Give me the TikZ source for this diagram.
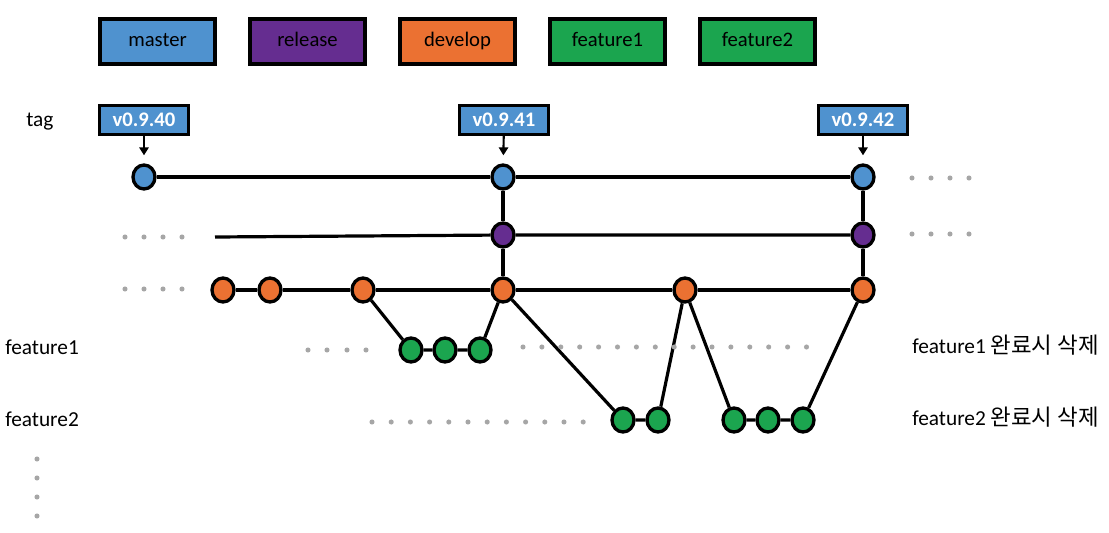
\documentclass[tikz,border=0pt]{standalone}
\usepackage{fontspec}
\setmainfont{Carlito}
\newfontfamily\krfont{Noto Sans CJK KR}[Scale=1.05]
\usetikzlibrary{arrows.meta,shapes.geometric}
\definecolor{cmaster}{HTML}{4F92CF}
\definecolor{crelease}{HTML}{652D90}
\definecolor{cdevelop}{HTML}{EB7132}
\definecolor{cfeature}{HTML}{1BA54F}
\definecolor{cdot}{HTML}{A6A6A6}
\begin{document}
\begin{tikzpicture}[x=0.75pt,y=-0.75pt,
  legendbox/.style={draw=black,line width=3pt,minimum width=86.25pt,minimum height=33.75pt,inner sep=0pt,text height=1.9ex,text depth=0.3ex,font=\fontsize{15.5}{18}\selectfont},
  tagbox/.style={draw=black,fill=cmaster,line width=2.2pt,minimum width=66.75pt,minimum height=21.4pt,inner sep=0pt,text=white,font=\fontsize{15.5}{18}\selectfont\bfseries},
  commit/.style={ellipse,draw=black,line width=2.5pt,minimum width=16.5pt,minimum height=18pt,inner sep=0pt},
  mc/.style={commit,fill=cmaster},
  rc/.style={commit,fill=crelease},
  dc/.style={commit,fill=cdevelop},
  fc/.style={commit,fill=cfeature},
  branch/.style={line width=2.4pt,black},
  tagarrow/.style={line width=1.6pt,-{Triangle[width=7pt,length=6pt]},shorten >=6pt},
  label/.style={font=\fontsize{16}{19}\selectfont,inner sep=0pt},
  graydot/.style={fill=cdot}
]
\useasboundingbox (0,0) rectangle (1109,532);
\fill[white] (0,0) rectangle (1109,532);

% legend
\node[legendbox,fill=cmaster]  (lm) at (157.5,41) {master};
\node[legendbox,fill=crelease] (lr) at (307.5,41) {release};
\node[legendbox,fill=cdevelop] (ld) at (457.5,41) {develop};
\node[legendbox,fill=cfeature] (lf1) at (607.5,41) {feature1};
\node[legendbox,fill=cfeature] (lf2) at (757.5,41) {feature2};

% row labels
\node[label,anchor=west] (ltag) at (26,122) {tag};
\node[label,anchor=west] (lfa) at (5,347) {feature1};
\node[label,anchor=west] (lfb) at (5,419) {feature2};
\node[label,anchor=east] (rfa) at (1099,345) {feature1 {\krfont 완료시 삭제}};
\node[label,anchor=east] (rfb) at (1099,417) {feature2 {\krfont 완료시 삭제}};

% tags
\node[tagbox] (t1) at (144,120) {v0.9.40};
\node[tagbox] (t2) at (504,120) {v0.9.41};
\node[tagbox] (t3) at (863,120) {v0.9.42};

% master
\node[mc] (m1) at (144,177) {};
\node[mc] (m2) at (503,177) {};
\node[mc] (m3) at (863,177) {};
% release
\coordinate (rs) at (215,237);
\node[rc] (r1) at (503,235) {};
\node[rc] (r2) at (863,235) {};
% develop
\node[dc] (d1) at (223,290) {};
\node[dc] (d2) at (270,290) {};
\node[dc] (d3) at (363,290) {};
\node[dc] (d4) at (503,290) {};
\node[dc] (d5) at (685,290) {};
\node[dc] (d6) at (863,290) {};
% feature1
\node[fc] (fa1) at (411,350) {};
\node[fc] (fa2) at (445,350) {};
\node[fc] (fa3) at (480,350) {};
% feature2
\node[fc] (fb1) at (623,420) {};
\node[fc] (fb2) at (658,420) {};
\node[fc] (fb3) at (734,420) {};
\node[fc] (fb4) at (768,420) {};
\node[fc] (fb5) at (803,420) {};

% tag arrows
\draw[tagarrow] (t1) -- (m1);
\draw[tagarrow] (t2) -- (m2);
\draw[tagarrow] (t3) -- (m3);

% history lines
\draw[branch] (m1) -- (m2) -- (m3);
\draw[branch] (rs) -- (r1) -- (r2);
\draw[branch] (d1) -- (d2) -- (d3) -- (d4) -- (d5) -- (d6);
\draw[branch] (m2) -- (r1) -- (d4);
\draw[branch] (m3) -- (r2) -- (d6);
\draw[branch] (d3) -- (fa1) -- (fa2) -- (fa3) -- (d4);
\draw[branch] (d4) -- (fb1) -- (fb2) -- (d5) -- (fb3) -- (fb4) -- (fb5) -- (d6);

% continuation dots
\foreach \x in {912,931,950,969} {
  \fill[graydot] (\x,178) circle (1.9pt);
  \fill[graydot] (\x,234) circle (1.9pt);
}
\foreach \x in {125,144,163,182} {
  \fill[graydot] (\x,237) circle (1.9pt);
  \fill[graydot] (\x,289) circle (1.9pt);
}
\foreach \x in {308,327,347,366} \fill[graydot] (\x,350) circle (1.9pt);
\foreach \i in {0,...,15} \fill[graydot] (523+18.9*\i,347) circle (1.9pt);
\foreach \i in {0,...,11} \fill[graydot] (372+19.2*\i,422) circle (1.9pt);
\foreach \y in {459,478,497,516} \fill[graydot] (37,\y) circle (1.9pt);
\end{tikzpicture}
\end{document}
